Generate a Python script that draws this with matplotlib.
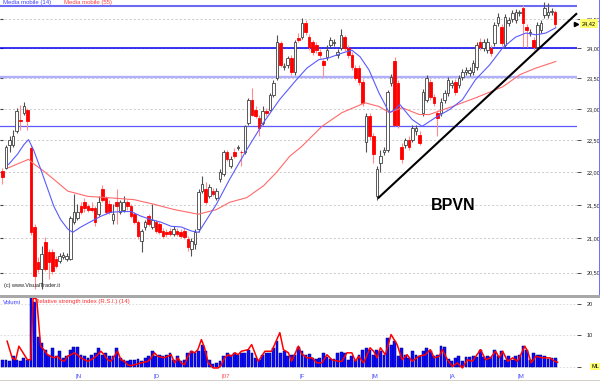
import numpy as np
import matplotlib
matplotlib.use("Agg")
import matplotlib.pyplot as plt
from matplotlib.ticker import FixedLocator, NullLocator, FuncFormatter, NullFormatter
from matplotlib.patches import Rectangle

plt.rcParams['font.family'] = ['Liberation Sans', 'DejaVu Sans']

# ---------------- data ----------------
opens = [
    22.02, 22.07, 22.43, 22.43, 22.64, 22.83, 22.94, 22.99, 22.38, 21.17,
    20.66, 20.56, 20.95, 20.80, 20.80, 20.70, 20.67, 20.73, 20.70, 20.70,
    21.24, 21.31, 21.48, 21.55, 21.48, 21.46, 21.46, 21.36, 21.74, 21.61,
    21.51, 21.28, 21.55, 21.40, 21.43, 21.54, 21.48, 21.36, 21.25, 20.96,
    21.17, 21.33, 21.17, 21.24, 21.21, 21.11, 21.09, 21.11, 21.06, 21.11,
    21.09, 21.11, 20.99, 20.84, 20.92, 21.14, 21.71, 21.74, 21.63, 21.71,
    21.61, 21.89, 21.97, 22.32, 22.09, 22.32, 22.38, 22.32, 22.31, 22.78,
    23.15, 22.99, 22.86, 22.78, 22.96, 22.99, 23.23, 23.51, 24.09, 23.69,
    23.72, 23.84, 23.61, 24.18, 24.19, 24.43, 24.19, 24.11, 24.06, 23.94,
    23.78, 23.86, 24.06, 24.09, 23.89, 24.01, 24.19, 24.01, 23.89, 23.67,
    23.67, 23.44, 22.48, 22.88, 22.56, 21.63, 22.15, 22.31, 22.35, 23.43,
    23.78, 23.43, 22.40, 22.43, 22.51, 22.51, 22.64, 22.59, 22.94, 23.15,
    23.44, 23.20, 22.94, 22.94, 23.15, 23.26, 23.39, 23.44, 23.39, 23.53,
    23.61, 23.59, 23.61, 23.69, 24.11, 24.01, 23.97, 24.01, 24.09, 24.43,
    24.36, 24.06, 24.43, 24.50, 24.48, 24.60, 24.69, 24.36, 24.26, 24.14,
    24.02, 24.31, 24.57, 24.57, 24.62, 24.62]
highs = [
    22.07, 22.43, 22.56, 22.67, 23.02, 23.07, 23.12, 23.02, 22.42, 21.21,
    20.73, 20.89, 21.02, 20.84, 20.84, 20.74, 20.79, 20.80, 20.79, 21.34,
    21.66, 21.51, 21.54, 21.61, 21.52, 21.54, 21.49, 21.63, 21.80, 21.64,
    21.58, 21.51, 21.74, 21.58, 21.63, 21.58, 21.52, 21.40, 21.28, 21.14,
    21.28, 21.37, 21.51, 21.28, 21.25, 21.15, 21.14, 21.15, 21.18, 21.15,
    21.14, 21.15, 21.03, 21.00, 21.14, 21.74, 21.94, 21.85, 21.82, 21.75,
    21.75, 22.05, 22.35, 22.35, 22.25, 22.37, 22.43, 22.35, 22.75, 23.18,
    23.34, 23.04, 22.91, 23.04, 23.01, 23.26, 23.48, 24.23, 24.13, 23.76,
    23.87, 23.89, 24.14, 24.26, 24.52, 24.48, 24.24, 24.14, 24.11, 23.99,
    23.82, 24.06, 24.19, 24.16, 23.99, 24.33, 24.23, 24.06, 23.94, 23.72,
    23.72, 23.49, 22.93, 22.93, 22.61, 22.09, 22.35, 22.40, 23.31, 23.58,
    23.86, 23.48, 22.45, 22.54, 22.56, 22.75, 22.75, 22.64, 23.33, 23.56,
    23.49, 23.25, 22.99, 23.17, 23.31, 23.53, 23.48, 23.49, 23.56, 23.66,
    23.69, 23.69, 23.81, 24.11, 24.18, 24.16, 24.18, 24.06, 24.45, 24.60,
    24.41, 24.59, 24.53, 24.65, 24.67, 24.65, 24.74, 24.41, 24.33, 24.19,
    24.45, 24.48, 24.79, 24.78, 24.69, 24.65]
lows = [
    21.82, 22.05, 22.31, 22.40, 22.61, 22.67, 22.91, 22.67, 21.05, 20.27,
    20.51, 20.27, 20.53, 20.41, 20.48, 20.57, 20.64, 20.70, 20.67, 20.69,
    21.21, 21.28, 21.36, 21.40, 21.40, 21.39, 21.18, 21.33, 21.55, 21.37,
    21.36, 21.21, 21.21, 21.36, 21.40, 21.43, 21.30, 21.22, 20.99, 20.80,
    21.12, 21.18, 21.14, 21.08, 21.06, 21.00, 21.02, 21.03, 21.03, 21.03,
    21.00, 20.99, 20.81, 20.74, 20.84, 21.09, 21.68, 21.51, 21.60, 21.63,
    21.58, 21.85, 21.94, 22.17, 22.06, 22.22, 22.35, 22.09, 22.28, 22.75,
    22.88, 22.85, 22.56, 22.75, 22.89, 22.96, 23.20, 23.48, 23.69, 23.64,
    23.67, 23.56, 23.56, 24.11, 24.16, 24.23, 23.97, 23.89, 23.92, 23.84,
    23.53, 23.81, 24.01, 24.04, 23.84, 23.97, 23.96, 23.84, 23.64, 23.48,
    23.39, 23.05, 22.31, 22.51, 22.15, 21.58, 22.00, 22.26, 22.32, 23.38,
    22.72, 22.70, 22.15, 22.38, 22.35, 22.48, 22.59, 22.42, 22.89, 23.12,
    23.15, 23.05, 22.56, 22.89, 23.10, 23.21, 23.34, 23.23, 23.34, 23.48,
    23.56, 23.54, 23.56, 23.64, 23.97, 23.96, 23.92, 23.87, 24.04, 24.38,
    24.04, 24.01, 24.38, 24.45, 24.43, 24.55, 24.02, 24.02, 24.21, 23.97,
    23.97, 24.26, 24.52, 24.52, 24.57, 24.36]
closes = [
    21.92, 22.40, 22.51, 22.56, 22.96, 22.80, 23.04, 22.80, 21.09, 20.45,
    20.56, 20.77, 20.56, 20.66, 20.53, 20.60, 20.74, 20.76, 20.74, 21.31,
    21.39, 21.39, 21.40, 21.46, 21.43, 21.43, 21.24, 21.54, 21.58, 21.40,
    21.39, 21.36, 21.48, 21.54, 21.54, 21.48, 21.33, 21.25, 21.03, 21.11,
    21.24, 21.21, 21.28, 21.11, 21.09, 21.03, 21.06, 21.06, 21.14, 21.06,
    21.03, 21.02, 20.87, 20.96, 21.09, 21.69, 21.82, 21.55, 21.77, 21.66,
    21.71, 22.00, 22.31, 22.20, 22.20, 22.25, 22.40, 22.31, 22.72, 23.15,
    22.91, 22.88, 22.70, 22.96, 22.94, 23.23, 23.43, 24.11, 23.72, 23.71,
    23.84, 23.61, 24.11, 24.14, 24.43, 24.28, 24.02, 23.94, 23.97, 23.89,
    23.72, 23.97, 24.14, 24.11, 23.94, 24.23, 24.01, 23.89, 23.69, 23.51,
    23.44, 23.10, 22.88, 22.56, 22.28, 22.05, 22.25, 22.35, 23.28, 23.53,
    22.75, 22.75, 22.20, 22.50, 22.40, 22.70, 22.70, 22.46, 23.28, 23.51,
    23.20, 23.10, 22.86, 23.12, 23.26, 23.48, 23.43, 23.28, 23.51, 23.61,
    23.64, 23.64, 23.76, 24.06, 24.02, 24.11, 24.11, 23.92, 24.40, 24.53,
    24.09, 24.53, 24.48, 24.60, 24.62, 24.62, 24.43, 24.31, 24.28, 24.02,
    24.40, 24.43, 24.69, 24.62, 24.64, 24.42]

volume = [
    2.2, 2.2, 1.9, 3.5, 2.2, 1.9, 2.8, 2.2, 22.0, 20.6,
    9.5, 7.6, 5.4, 3.9, 6.0, 3.5, 5.0, 2.8, 3.5, 5.4,
    6.5, 6.5, 3.9, 3.5, 2.8, 3.9, 4.4, 6.0, 3.9, 4.4,
    3.5, 3.5, 6.0, 2.8, 2.2, 1.9, 2.2, 2.2, 2.5, 2.0,
    2.8, 3.5, 5.0, 3.5, 3.9, 3.5, 3.9, 4.4, 2.2, 3.5,
    2.0, 2.2, 4.4, 5.0, 4.4, 5.0, 7.0, 5.0, 2.2, 0.8,
    1.3, 1.9, 3.5, 4.4, 3.9, 4.4, 3.9, 4.4, 4.4, 5.4,
    4.4, 2.8, 2.2, 3.9, 4.4, 4.4, 6.0, 8.1, 4.4, 5.0,
    3.5, 3.9, 3.9, 6.5, 5.0,
    3.9, 4.2, 2.9, 2.6, 2.9, 4.5, 3.2, 2.6, 2.6, 4.5,
    4.7, 4.5, 2.3, 3.6, 2.3, 3.9, 5.5, 6.1, 5.5, 3.9,
    5.5, 5.0, 3.9, 9.3, 7.1, 8.2, 3.4, 6.1, 3.9, 2.9,
    5.0, 3.9, 3.4, 5.0, 6.1, 5.0, 3.6, 3.9, 6.6, 6.4,
    2.6, 1.8, 2.9, 3.4, 2.0, 3.2, 3.2, 3.4, 3.2, 5.5,
    3.2, 3.4, 3.2, 5.3, 3.4, 5.0, 2.3, 3.4, 2.3, 3.4,
    3.9, 6.6, 5.3, 2.3, 4.5, 3.9, 3.9, 3.4, 2.6, 2.9, 2.7]

rsi_idx = [1.3, 2.7, 3.7, 4.6, 5.5, 7.0, 7.9, 8.6, 9.6, 10.7,
           11.6, 12.6, 13.5, 14.5, 15.4, 16.3, 17.3, 18.2, 19.2, 20.1,
           21.0, 22.0, 23.0, 23.9, 24.8, 25.7, 26.7, 27.6, 28.5, 29.5,
           30.4, 32.3, 33.2, 34.2, 35.1, 36.0, 37.0, 38.9, 40.8, 41.7,
           42.6, 43.6, 45.4, 47.3, 48.3, 49.2, 50.1, 51.1, 52.0, 53.0,
           53.9, 54.8, 55.8, 56.7, 57.7, 59.1, 60.5, 61.4, 62.3, 63.3,
           64.2, 65.2, 66.1, 67.0, 68.9, 69.9, 71.7, 72.7, 73.6, 75.5,
           77.8, 78.8, 80.2, 81.1, 83.0, 83.9, 85.4, 86.8, 88.2, 89.6,
           91.0, 92.4, 94.3, 95.2, 96.6, 98.0, 99.0, 99.9, 101.3, 103.1,
           104.1, 105.1, 106.0, 107.4, 109.0, 110.7, 112.1, 113.5, 114.9, 116.8,
           118.6, 120.0, 121.1, 122.5, 123.4, 124.8, 126.2, 127.6, 129.0, 130.4,
           131.8, 134.1, 135.5, 136.9, 138.3, 139.4, 140.3, 141.7, 143.1, 144.5,
           146.5, 147.3, 148.3, 149.6, 151.5, 153.5, 154.9, 155.7]
rsi_val = [8.2, 2.9, 2.3, 6.6, 5.0, 2.3, 2.3, 22.0, 21.5, 6.6,
           5.5, 3.9, 3.4, 2.9, 3.4, 2.3, 1.8, 3.4, 3.9, 4.5,
           3.9, 2.9, 2.3, 1.8, 2.3, 2.9, 3.9, 5.0, 3.9, 2.3,
           1.8, 5.0, 2.3, 1.8, 0.7, 0.4, 0.7, 1.3, 1.8, 2.9,
           4.5, 3.4, 2.9, 3.9, 1.3, 2.9, 1.3, 0.7, 3.4, 5.0,
           4.5, 5.5, 8.7, 6.0, 1.3, -0.3, -0.3, 0.7, 2.9, 3.9,
           3.4, 4.5, 3.9, 5.0, 5.5, 7.1, 1.8, 3.4, 5.0, 5.0,
           10.9, 5.5, 4.5, 1.8, 6.6, 4.2, 2.9, 2.9, 1.3, 1.3,
           3.9, 2.3, 1.8, 1.8, 4.5, 4.5, 1.8, 3.4, 1.3, 6.1,
           5.0, 2.9, 6.1, 3.9, 10.3, 7.1, 2.3, 3.9, 1.8, 3.4,
           3.9, 5.5, 2.9, 3.4, 5.5, 2.3, 0.2, 1.3, -0.3, 2.3,
           1.8, 5.5, 2.3, 2.9, 5.0, 2.9, 5.0, 1.8, 2.9, 1.8,
           6.6, 5.0, 1.3, 3.4, 2.9, 2.9, 1.8, 1.5]

ma14_idx = [1.7, 4.2, 6.0, 7.3, 8.7, 10.7, 12.7, 14.4, 16.3, 18.3, 19.7,
            22.0, 24.8, 27.6, 30.4, 33.2, 36.0, 38.9, 41.7, 44.5, 47.3, 50.1, 53.0, 55.0,
            60.0, 63.7, 68.5, 73.2, 77.7, 82.5, 85.4, 88.7, 91.5, 95.2, 98.0, 100.3,
            102.8, 105.6, 108.5, 110.1, 111.5, 114.9, 117.7, 121.4, 125.4, 129.0,
            132.7, 136.6, 140.3, 143.9, 146.8, 149.6, 152.4, 155.2]
ma14_val = [22.12, 22.28, 22.43, 22.51, 22.35, 22.05, 21.74, 21.48, 21.28, 21.14, 21.09,
            21.17, 21.25, 21.33, 21.39, 21.40, 21.40, 21.33, 21.28, 21.24, 21.18, 21.17, 21.11, 21.09,
            21.51, 21.89, 22.35, 22.78, 23.15, 23.48, 23.67, 23.81, 23.84, 23.92, 23.97, 23.86,
            23.64, 23.26, 22.94, 22.99, 23.07, 22.83, 22.72, 22.86, 22.99, 23.15,
            23.48, 23.72, 24.01, 24.19, 24.26, 24.23, 24.26, 24.35]
ma55_idx = [1.7, 7.3, 9.0, 11.5, 14.4, 18.3, 23.9, 29.6, 36.9, 42.5, 48.2, 54.9,
            60.0, 63.7, 68.5, 73.2, 76.9, 80.6, 83.9, 89.6, 95.2, 101.7, 105.6,
            108.5, 112.1, 116.9, 119.7, 126.2, 132.7, 140.3, 145.1, 149.6, 155.2]
ma55_val = [22.07, 22.20, 22.12, 22.02, 21.89, 21.71, 21.63, 21.61, 21.58, 21.51, 21.43, 21.36,
            21.43, 21.54, 21.61, 21.79, 22.00, 22.25, 22.40, 22.72, 22.94, 23.10, 23.04,
            22.94, 23.02, 22.91, 22.91, 23.04, 23.18, 23.36, 23.56, 23.67, 23.78]

trend_idx = [105.3, 161.15]
trend_val = [21.60, 24.60]

level_prices = [24.72, 24.00, 23.53, 22.73]
level_colors = ['#6b6bf2', '#0000f0', '#b0b0fa', '#5a5aff']
level_widths = [1.5, 1.1, 1.7, 0.9]

price_levels = [20.5, 21.0, 21.5, 22.0, 22.5, 23.0, 23.5, 24.0, 24.5]
last_price = 24.42

month_first = [21, 43, 62, 84, 104, 126, 145]
month_labels = ['N', 'D', '07', 'F', 'M', 'A', 'M']
month_colors = ['#4a4aff', '#4a4aff', '#ff4a4a', '#4a4aff', '#4a4aff', '#4a4aff', '#4a4aff']

vol_ticks = [0, 10, 20]
vol_ticklabels = ['', '10', '20']

# ---------------- figure ----------------
W, H = 600.0, 381.0
def fx(px): return px / W
def fy(py): return 1.0 - py / H

fig = plt.figure(figsize=(6.0, 3.81), dpi=100)
fig.patch.set_facecolor('white')

n = len(closes)
idx = np.arange(n)
o = np.array(opens); c = np.array(closes)
hi = np.array(highs); lo = np.array(lows)
up = c >= o

# price panel
ax = fig.add_axes([0, fy(293), fx(577), 293 / H])
ax.set_facecolor('none')
ax.set_yscale('log')
ax.set_ylim(20.21, 24.83)
ax.set_xlim(-0.70, 161.15)
for s in ax.spines.values():
    s.set_visible(False)
ax.set_xticks([])
ax.yaxis.set_major_locator(FixedLocator(price_levels))
ax.yaxis.set_minor_locator(NullLocator())
ax.yaxis.set_minor_formatter(NullFormatter())
ax.yaxis.set_major_formatter(FuncFormatter(lambda v, p: f"{v:.2f}".replace('.', ',')))
ax.yaxis.tick_right()
ax.tick_params(axis='y', which='major', direction='out', length=3, width=0.6,
               color='#303030', labelsize=4, pad=4, labelcolor='#202020')

for v in price_levels:
    ax.axhline(v, color='#c4c4c4', lw=0.6, ls=(0, (2.5, 2.5)), zorder=0.5)
ax.hlines(price_levels, 0, 0.006, transform=ax.get_yaxis_transform(),
          color='#404040', lw=0.8, zorder=1)

for lv, lc, lw in zip(level_prices, level_colors, level_widths):
    ax.axhline(lv, color=lc, lw=lw, zorder=1)

wick_col = np.where(up, '#505050', '#ff8c8c')
ax.vlines(idx, lo, hi, colors=wick_col, lw=0.8, zorder=2)
body_bottom = np.minimum(o, c)
body_h = np.maximum(np.abs(c - o), 0.012)
face = np.where(up, '#ffffff', '#ff0000')
edge = np.where(up, '#404040', '#ff0000')
ax.bar(idx, body_h, bottom=body_bottom, width=0.72, color=face,
       edgecolor=edge, linewidth=0.6, zorder=3)

ax.plot(ma55_idx, ma55_val, color='#ff6a6a', lw=0.8, zorder=4)
ax.plot(ma14_idx, ma14_val, color='#5a5aff', lw=0.8, zorder=4)

ax.plot(trend_idx, trend_val, color='black', lw=1.5, zorder=5,
        solid_capstyle='butt', clip_on=False)
ax.plot([trend_idx[1] - 0.4], [last_price], marker='>', ms=3, color='black',
        zorder=6, clip_on=False)

ax.text(0.786, 0.30, 'BPVN', transform=ax.transAxes, fontsize=11.5,
        fontweight='bold', color='black', ha='center', va='center')

fig.text(fx(3), fy(2.5), 'Media mobile (14)', color='#4040ff', fontsize=4.3,
         ha='left', va='center')
fig.text(fx(64), fy(2.5), 'Media mobile (55)', color='#ff4040', fontsize=4.3,
         ha='left', va='center')
fig.text(fx(4), fy(286), '(c) www.VisualTrader.it', color='#202020', fontsize=4,
         ha='left', va='center')
fig.text(fx(589), fy(23.5), f"{last_price:.2f}".replace('.', ','), fontsize=4,
         ha='center', va='center', color='black',
         bbox=dict(boxstyle='square,pad=0.3', facecolor='#ffff70', edgecolor='none'))

# separators / borders
fig.add_artist(Rectangle((0, fy(297.5)), 1, 2.5 / H, transform=fig.transFigure,
                         facecolor='#a8a8a8', edgecolor='none'))
fig.add_artist(Rectangle((fx(598.5), fy(295)), 1.2 / W, 295 / H, transform=fig.transFigure,
                         facecolor='#7070ff', edgecolor='none'))
fig.add_artist(Rectangle((0, 0), 1, 1.5 / H, transform=fig.transFigure,
                         facecolor='#d4d0c8', edgecolor='none'))

# volume panel
axv = fig.add_axes([0, fy(370), fx(577), 73 / H])
axv.set_facecolor('none')
axv.set_xlim(-0.70, 161.15)
axv.set_ylim(-0.95, 22.2)
for s in axv.spines.values():
    s.set_visible(False)
axv.set_xticks([])
axv.yaxis.tick_right()
axv.set_yticks(vol_ticks)
axv.set_yticklabels(vol_ticklabels)
axv.tick_params(axis='y', direction='out', length=3, width=0.6, color='#303030',
                labelsize=4, pad=4, labelcolor='#202020')
for v in vol_ticks:
    axv.axhline(v, color='#d0d0d0', lw=0.5, ls=(0, (2.5, 2.5)), zorder=0.5)

axv.bar(idx, volume, width=0.8, color='#0a0aff', edgecolor='#00007a',
        linewidth=0.35, zorder=2)
axv.plot(rsi_idx, rsi_val, color='#ff0000', lw=1.1, zorder=3, clip_on=False)

fig.text(fx(3), fy(302), 'Volumi', color='#4040ff', fontsize=4.3, ha='left', va='center')
fig.text(fx(35), fy(302), 'Relative strength index (R.S.I.) (14)', color='#ff3030',
         fontsize=4.3, ha='left', va='center')
fig.text(fx(595), fy(366.5), 'ML', fontsize=4, ha='center', va='center', color='black',
         bbox=dict(boxstyle='square,pad=0.2', facecolor='#ffff70', edgecolor='none'))

for m, lab, col in zip(month_first, month_labels, month_colors):
    axv.text(m - 0.6, -0.09, '|' + lab, transform=axv.get_xaxis_transform(),
             color=col, fontsize=4.5, ha='left', va='center')

fig.savefig('out.png', dpi=100, facecolor='white')
